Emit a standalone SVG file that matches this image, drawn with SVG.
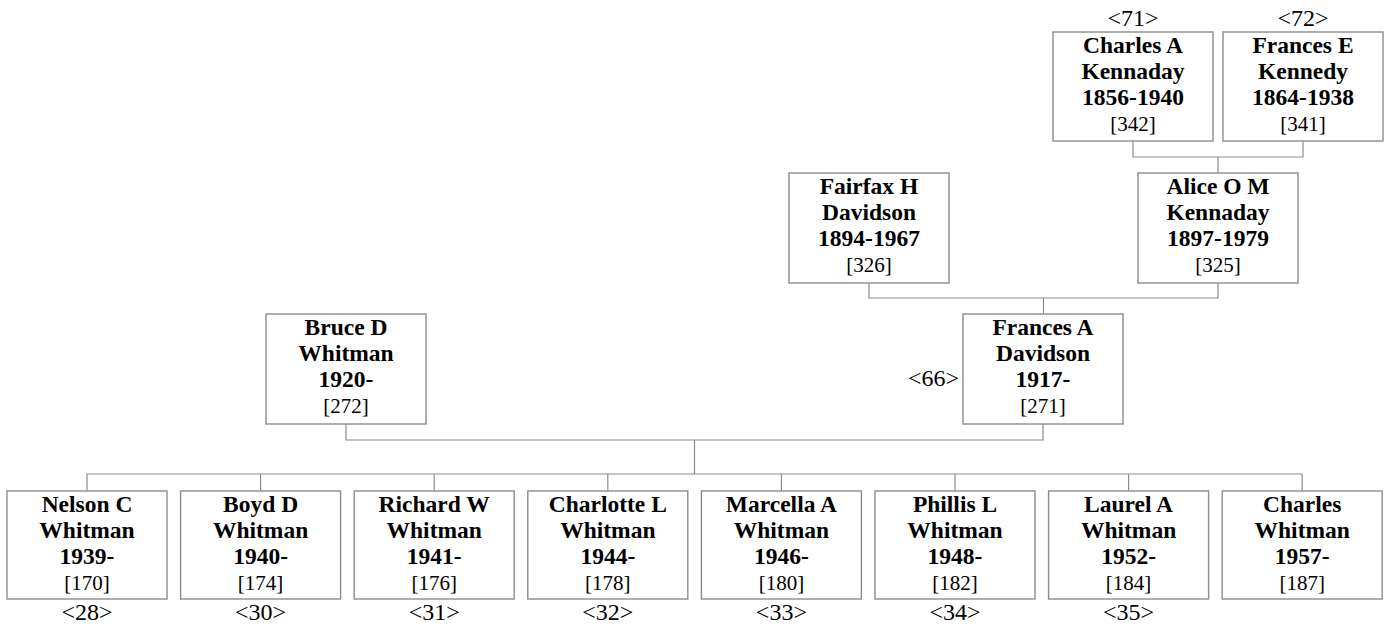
<svg xmlns="http://www.w3.org/2000/svg" width="1388" height="628" viewBox="0 0 1388 628">
<style>
.box{fill:#fff;stroke:#8c8c8c;stroke-width:1.4}
.c{fill:none;stroke:#8c8c8c;stroke-width:1.2}
text{font-family:"Times New Roman","Liberation Serif",serif;text-anchor:middle;fill:#000}
.b{font-weight:bold;font-size:23.5px}
.r{font-size:21px}
.l{font-size:24px}
</style>
<rect width="1388" height="628" fill="#fff"/>
<g id="connectors">
<path class="c" d="M1133 141V157H1303V141M1218 157V173"/>
<path class="c" d="M869 283V298H1218V283M1043.5 298V314"/>
<path class="c" d="M346 424V440H1043V424M694.5 440V474"/>
<path class="c" d="M87 491V474H1302.2V491M260.6 474V491M434.2 474V491M607.8 474V491M781.4 474V491M955 474V491M1128.6 474V491"/>
</g>
<g id="p71"><rect class="box" x="1053" y="32" width="160" height="109"/><text class="l" x="1133" y="26">&lt;71&gt;</text><text class="b" x="1133" y="53">Charles A</text><text class="b" x="1133" y="79">Kennaday</text><text class="b" x="1133" y="105">1856-1940</text><text class="r" x="1133" y="131">[342]</text></g>
<g id="p72"><rect class="box" x="1223" y="32" width="160" height="109"/><text class="l" x="1303" y="26">&lt;72&gt;</text><text class="b" x="1303" y="53">Frances E</text><text class="b" x="1303" y="79">Kennedy</text><text class="b" x="1303" y="105">1864-1938</text><text class="r" x="1303" y="131">[341]</text></g>
<g id="p326"><rect class="box" x="789" y="173" width="160" height="110"/><text class="b" x="869" y="194">Fairfax H</text><text class="b" x="869" y="220">Davidson</text><text class="b" x="869" y="246">1894-1967</text><text class="r" x="869" y="272">[326]</text></g>
<g id="p325"><rect class="box" x="1138" y="173" width="160" height="110"/><text class="b" x="1218" y="194">Alice O M</text><text class="b" x="1218" y="220">Kennaday</text><text class="b" x="1218" y="246">1897-1979</text><text class="r" x="1218" y="272">[325]</text></g>
<g id="p272"><rect class="box" x="266" y="314" width="160" height="110"/><text class="b" x="346" y="335">Bruce D</text><text class="b" x="346" y="361">Whitman</text><text class="b" x="346" y="387">1920-</text><text class="r" x="346" y="413">[272]</text></g>
<g id="p271"><rect class="box" x="963" y="314" width="160" height="110"/><text class="l" x="959" y="386" style="text-anchor:end">&lt;66&gt;</text><text class="b" x="1043" y="335">Frances A</text><text class="b" x="1043" y="361">Davidson</text><text class="b" x="1043" y="387">1917-</text><text class="r" x="1043" y="413">[271]</text></g>
<g id="p170"><rect class="box" x="7" y="491" width="160" height="108"/><text class="b" x="87" y="512">Nelson C</text><text class="b" x="87" y="538">Whitman</text><text class="b" x="87" y="564">1939-</text><text class="r" x="87" y="590">[170]</text><text class="l" x="87" y="620">&lt;28&gt;</text></g>
<g id="p174"><rect class="box" x="180.6" y="491" width="160" height="108"/><text class="b" x="260.6" y="512">Boyd D</text><text class="b" x="260.6" y="538">Whitman</text><text class="b" x="260.6" y="564">1940-</text><text class="r" x="260.6" y="590">[174]</text><text class="l" x="260.6" y="620">&lt;30&gt;</text></g>
<g id="p176"><rect class="box" x="354.2" y="491" width="160" height="108"/><text class="b" x="434.2" y="512">Richard W</text><text class="b" x="434.2" y="538">Whitman</text><text class="b" x="434.2" y="564">1941-</text><text class="r" x="434.2" y="590">[176]</text><text class="l" x="434.2" y="620">&lt;31&gt;</text></g>
<g id="p178"><rect class="box" x="527.8" y="491" width="160" height="108"/><text class="b" x="607.8" y="512">Charlotte L</text><text class="b" x="607.8" y="538">Whitman</text><text class="b" x="607.8" y="564">1944-</text><text class="r" x="607.8" y="590">[178]</text><text class="l" x="607.8" y="620">&lt;32&gt;</text></g>
<g id="p180"><rect class="box" x="701.4" y="491" width="160" height="108"/><text class="b" x="781.4" y="512">Marcella A</text><text class="b" x="781.4" y="538">Whitman</text><text class="b" x="781.4" y="564">1946-</text><text class="r" x="781.4" y="590">[180]</text><text class="l" x="781.4" y="620">&lt;33&gt;</text></g>
<g id="p182"><rect class="box" x="875" y="491" width="160" height="108"/><text class="b" x="955" y="512">Phillis L</text><text class="b" x="955" y="538">Whitman</text><text class="b" x="955" y="564">1948-</text><text class="r" x="955" y="590">[182]</text><text class="l" x="955" y="620">&lt;34&gt;</text></g>
<g id="p184"><rect class="box" x="1048.6" y="491" width="160" height="108"/><text class="b" x="1128.6" y="512">Laurel A</text><text class="b" x="1128.6" y="538">Whitman</text><text class="b" x="1128.6" y="564">1952-</text><text class="r" x="1128.6" y="590">[184]</text><text class="l" x="1128.6" y="620">&lt;35&gt;</text></g>
<g id="p187"><rect class="box" x="1222.2" y="491" width="160" height="108"/><text class="b" x="1302.2" y="512">Charles</text><text class="b" x="1302.2" y="538">Whitman</text><text class="b" x="1302.2" y="564">1957-</text><text class="r" x="1302.2" y="590">[187]</text></g>
</svg>
